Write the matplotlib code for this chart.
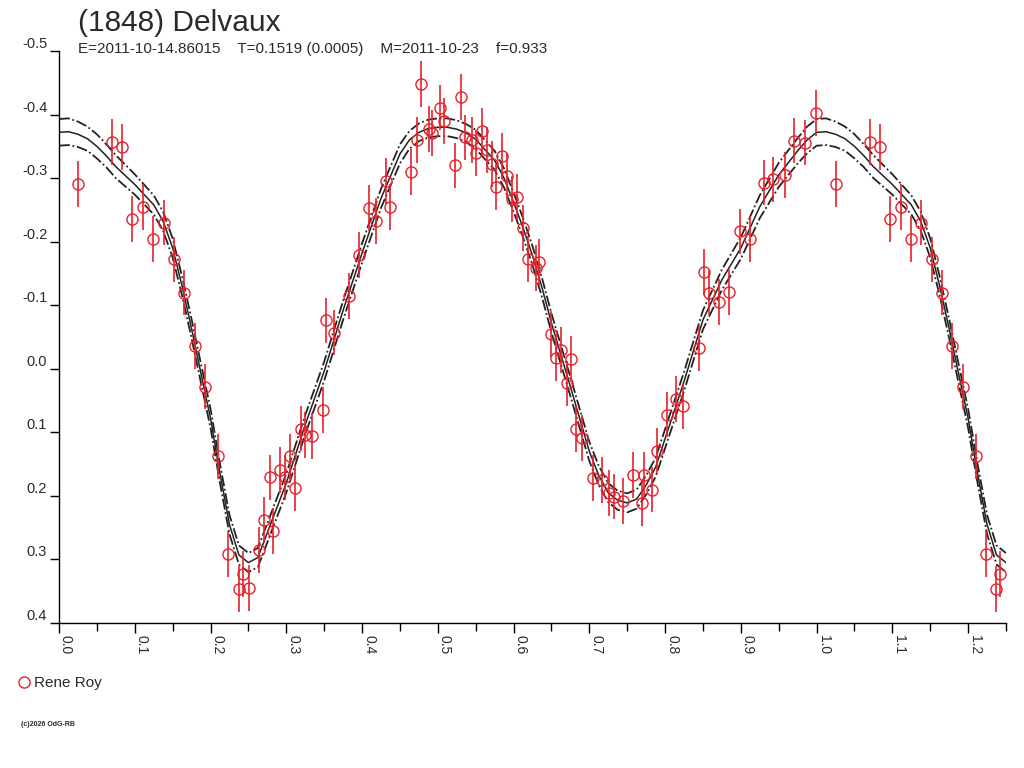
import matplotlib
matplotlib.use("Agg")
import matplotlib.pyplot as plt
from matplotlib.lines import Line2D
import numpy as np

plt.rcParams['font.family'] = ['Liberation Sans', 'DejaVu Sans']

# lightcurve points (phase, reduced mag), Rene Roy
phase = [0.0255, 0.070, 0.0836, 0.0968, 0.111, 0.1245, 0.138, 0.152, 0.165, 0.179,
         0.193, 0.210, 0.223, 0.237, 0.2425, 0.251, 0.264, 0.270, 0.283, 0.278,
         0.292, 0.298, 0.305, 0.311, 0.319, 0.325, 0.3335, 0.349, 0.352, 0.363,
         0.3824, 0.396, 0.409, 0.418, 0.431, 0.437, 0.4646, 0.472, 0.478, 0.488,
         0.493, 0.503, 0.5086, 0.5227, 0.531, 0.536, 0.545, 0.5504, 0.558, 0.5645,
         0.571, 0.577, 0.585, 0.591, 0.598, 0.605, 0.612, 0.6186, 0.629, 0.633,
         0.649, 0.656, 0.663, 0.670, 0.676, 0.683, 0.690, 0.7043, 0.717, 0.7255,
         0.7326, 0.745, 0.758, 0.7717, 0.7695, 0.7827, 0.789, 0.8025, 0.815, 0.824,
         0.8443, 0.851, 0.858, 0.8716, 0.8848, 0.899, 0.9125, 0.930, 0.943, 0.958,
         0.9706, 0.985, 0.9988]
mag = [-0.291, -0.357, -0.349, -0.236, -0.255, -0.204, -0.230, -0.172, -0.120, -0.036,
       0.028, 0.138, 0.292, 0.347, 0.323, 0.345, 0.285, 0.238, 0.255, 0.171,
       0.159, 0.171, 0.138, 0.187, 0.094, 0.104, 0.106, 0.065, -0.076, -0.057,
       -0.115, -0.179, -0.253, -0.233, -0.295, -0.255, -0.310, -0.360, -0.448, -0.377,
       -0.371, -0.411, -0.390, -0.320, -0.428, -0.364, -0.360, -0.340, -0.374, -0.344,
       -0.322, -0.2865, -0.335, -0.304, -0.267, -0.270, -0.222, -0.173, -0.159, -0.168,
       -0.055, -0.0175, -0.030, 0.023, -0.0155, 0.095, 0.109, 0.172, 0.175, 0.195,
       0.201, 0.2075, 0.167, 0.167, 0.211, 0.190, 0.129, 0.072, 0.047, 0.059,
       -0.032, -0.152, -0.120, -0.105, -0.121, -0.216, -0.204, -0.293, -0.298, -0.305,
       -0.359, -0.356, -0.402]
err = 0.036

# fourier fit, with its error band
fit_phase = [0.0, 0.0125, 0.025, 0.0375, 0.05, 0.0625, 0.075, 0.1, 0.125,
             0.1375, 0.15, 0.1625, 0.175, 0.1875, 0.2, 0.2125, 0.225, 0.2375,
             0.25, 0.2625, 0.275, 0.3, 0.325, 0.35, 0.375, 0.4, 0.425,
             0.45, 0.4625, 0.475, 0.4875, 0.5, 0.5125, 0.525, 0.5375, 0.55,
             0.575, 0.5875, 0.6, 0.6125, 0.625, 0.6375, 0.65, 0.675, 0.7,
             0.7125, 0.725, 0.7375, 0.75, 0.7625, 0.775, 0.7875, 0.8, 0.8125,
             0.825, 0.85, 0.875, 0.9, 0.925, 0.95, 0.975, 0.9875, 1.0]
fit_mag = [-0.372, -0.373, -0.369, -0.362, -0.350, -0.335, -0.318, -0.290, -0.258,
           -0.232, -0.190, -0.130, -0.063, 0.008, 0.078, 0.165, 0.245, 0.293,
           0.305, 0.297, 0.258, 0.180, 0.088, 0.004, -0.092, -0.182, -0.268,
           -0.338, -0.360, -0.372, -0.378, -0.380, -0.380, -0.377, -0.371, -0.361,
           -0.328, -0.300, -0.262, -0.222, -0.178, -0.128, -0.072, 0.028, 0.130,
           0.168, 0.195, 0.207, 0.211, 0.205, 0.183, 0.155, 0.110, 0.065,
           0.020, -0.077, -0.140, -0.190, -0.255, -0.305, -0.343, -0.360, -0.372]
fit_sig = [0.021, 0.021, 0.020, 0.019, 0.019, 0.018, 0.018, 0.016, 0.015,
           0.015, 0.015, 0.015, 0.015, 0.015, 0.015, 0.015, 0.015, 0.015,
           0.015, 0.015, 0.015, 0.015, 0.015, 0.015, 0.015, 0.015, 0.015,
           0.015, 0.014, 0.014, 0.014, 0.014, 0.014, 0.014, 0.014, 0.015,
           0.015, 0.015, 0.015, 0.015, 0.015, 0.015, 0.015, 0.015, 0.015,
           0.015, 0.015, 0.015, 0.015, 0.015, 0.015, 0.015, 0.015, 0.015,
           0.015, 0.015, 0.016, 0.017, 0.018, 0.019, 0.020, 0.021, 0.021]

title = "(1848) Delvaux"
subtitle = "E=2011-10-14.86015    T=0.1519 (0.0005)    M=2011-10-23    f=0.933"
observer = "Rene Roy"

RED = '#e8202a'
TXT = '#2a2a2a'


def extend(x, y, upto=1.25):
    """ on recopie la phase 0..0.25 apres 1.0 """
    x = np.asarray(x)
    y = np.asarray(y)
    m = (x + 1) <= upto + 1e-9
    return np.concatenate([x, x[m] + 1]), np.concatenate([y, y[m]])


fig = plt.figure(figsize=(10.24, 7.68), dpi=100)
ax = fig.add_axes([59 / 1024, 1 - 623 / 768, 947 / 1024, 572 / 768])

px, py = extend(phase, mag)
ax.errorbar(px, py, yerr=err, fmt='o', ms=8, mfc='none', mec=RED, mew=1.0,
            ecolor=RED, elinewidth=1.2, capsize=0, zorder=3)

fp = np.array(fit_phase)
fm = np.array(fit_mag)
fs = np.array(fit_sig)
m = fp[1:] <= 0.25
cx = np.concatenate([fp, fp[1:][m] + 1])
cm = np.concatenate([fm, fm[1:][m]])
cs = np.concatenate([fs, fs[1:][m]])
ax.plot(cx, cm, '-', color='#222222', lw=1.1, zorder=2, solid_joinstyle='round')
ax.plot(cx, cm - cs, color='#222222', lw=1.3, ls=(0, (6, 1.5, 1, 1.5)), zorder=2)
ax.plot(cx, cm + cs, color='#222222', lw=1.3, ls=(0, (6, 1.5, 1, 1.5)), zorder=2)

ax.set_xlim(0, 1.25)
ax.set_ylim(0.4, -0.5)
ax.set_xticks(np.arange(0, 1.25, 0.1))
ax.set_xticks(np.arange(0.05, 1.26, 0.1), minor=True)
ax.set_xticklabels(["%.1f" % v for v in np.arange(0, 1.25, 0.1)], rotation=270,
                   ha='left', va='top', fontsize=10, color=TXT)
ax.set_yticks(np.arange(-0.5, 0.41, 0.1))
ax.set_yticklabels(["%.1f" % v if abs(v) > 1e-9 else "0.0" for v in np.arange(-0.5, 0.41, 0.1)],
                   fontsize=10.5, color=TXT)
for lab in ax.get_yticklabels():
    lab.set_va('bottom')
ax.tick_params(axis='x', which='major', direction='out', length=7.5, width=1, pad=1)
ax.tick_params(axis='x', which='minor', direction='out', length=6, width=1)
ax.tick_params(axis='y', direction='out', length=6.5, width=1, pad=2)
for s in ['top', 'right']:
    ax.spines[s].set_visible(False)
for s in ['left', 'bottom']:
    ax.spines[s].set_linewidth(1)

fig.text(78 / 1024, 1 - 23 / 768, title, fontsize=21.5, color=TXT, va='center', ha='left')
fig.text(78 / 1024, 1 - 49 / 768, subtitle, fontsize=11, color=TXT, va='center', ha='left')

h = Line2D([], [], marker='o', ls='none', ms=8, mfc='none', mec=RED, mew=1.0)
fig.legend([h], [observer], loc='center left', bbox_to_anchor=(7 / 1024, 1 - 683 / 768),
           frameon=False, fontsize=11, handletextpad=0.1, handlelength=1.2, borderpad=0,
           labelcolor=TXT)
fig.text(21 / 1024, 1 - 725 / 768, "(c)2026 OdG-RB", fontsize=5, color=TXT, va='center',
         fontweight='bold')

fig.savefig("out.png", dpi=100)
